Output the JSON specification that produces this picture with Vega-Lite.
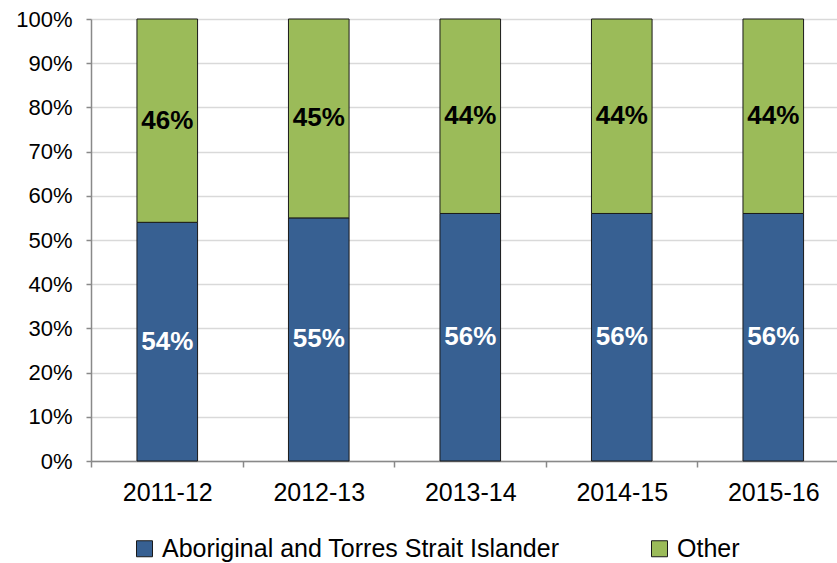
{
  "$schema": "https://vega.github.io/schema/vega-lite/v6.json",
  "autosize": "none",
  "width": 746,
  "height": 442,
  "padding": {"left": 91, "top": 19, "right": 0, "bottom": 102},
  "background": "white",
  "config": {
    "font": "Liberation Sans",
    "view": {"stroke": null}
  },
  "data": {
    "values": [
      {"year": "2011-12", "group": "Aboriginal and Torres Strait Islander", "value": 0.54, "ord": 1},
      {"year": "2011-12", "group": "Other", "value": 0.46, "ord": 2},
      {"year": "2012-13", "group": "Aboriginal and Torres Strait Islander", "value": 0.55, "ord": 1},
      {"year": "2012-13", "group": "Other", "value": 0.45, "ord": 2},
      {"year": "2013-14", "group": "Aboriginal and Torres Strait Islander", "value": 0.56, "ord": 1},
      {"year": "2013-14", "group": "Other", "value": 0.44, "ord": 2},
      {"year": "2014-15", "group": "Aboriginal and Torres Strait Islander", "value": 0.56, "ord": 1},
      {"year": "2014-15", "group": "Other", "value": 0.44, "ord": 2},
      {"year": "2015-16", "group": "Aboriginal and Torres Strait Islander", "value": 0.56, "ord": 1},
      {"year": "2015-16", "group": "Other", "value": 0.44, "ord": 2}
    ]
  },
  "encoding": {
    "x": {
      "field": "year",
      "type": "nominal",
      "scale": {"paddingInner": 0.6, "paddingOuter": 0.262, "align": 0.579},
      "axis": {
        "title": null,
        "labelAngle": 0,
        "labelFontSize": 25,
        "labelColor": "black",
        "labelPadding": 13,
        "domainColor": "#898989",
        "domainWidth": 1.5,
        "tickColor": "#898989",
        "tickWidth": 1.5,
        "tickSize": 6,
        "bandPosition": 0,
        "tickOffset": -45.5,
        "labelOffset": 45.5,
        "grid": false
      }
    },
    "y": {
      "field": "value",
      "type": "quantitative",
      "stack": "zero",
      "scale": {"domain": [0, 1]},
      "axis": {
        "title": null,
        "format": ".0%",
        "values": [0, 0.1, 0.2, 0.3, 0.4, 0.5, 0.6, 0.7, 0.8, 0.9, 1],
        "labelFontSize": 22,
        "labelColor": "black",
        "labelPadding": 14,
        "domainColor": "#898989",
        "domainWidth": 1.5,
        "tickColor": "#898989",
        "tickWidth": 1.5,
        "tickSize": 5,
        "grid": true,
        "gridColor": "#d9d9d9",
        "gridWidth": 1.5
      }
    },
    "order": {"field": "ord", "type": "quantitative"}
  },
  "layer": [
    {
      "mark": {"type": "bar", "stroke": "#1a1a1a", "strokeWidth": 1},
      "encoding": {
        "color": {
          "field": "group",
          "type": "nominal",
          "scale": {
            "domain": ["Aboriginal and Torres Strait Islander", "Other"],
            "range": ["#376092", "#9bbb59"]
          },
          "legend": {
            "title": null,
            "orient": "none",
            "legendX": 41,
            "legendY": 517,
            "direction": "horizontal",
            "labelFontSize": 25,
            "labelColor": "black",
            "symbolType": "square",
            "symbolSize": 256,
            "symbolStrokeColor": "#1a1a1a",
            "symbolStrokeWidth": 1,
            "labelOffset": 5,
            "columnPadding": 87,
            "labelLimit": 600
          }
        }
      }
    },
    {
      "mark": {"type": "text", "fontSize": 26, "fontWeight": "bold", "baseline": "middle"},
      "encoding": {
        "y": {"field": "value", "type": "quantitative", "stack": "zero", "bandPosition": 0.5},
        "text": {"field": "value", "type": "quantitative", "format": ".0%"},
        "color": {
          "condition": {"test": "datum.group === 'Other'", "value": "black"},
          "value": "white"
        }
      }
    }
  ]
}
